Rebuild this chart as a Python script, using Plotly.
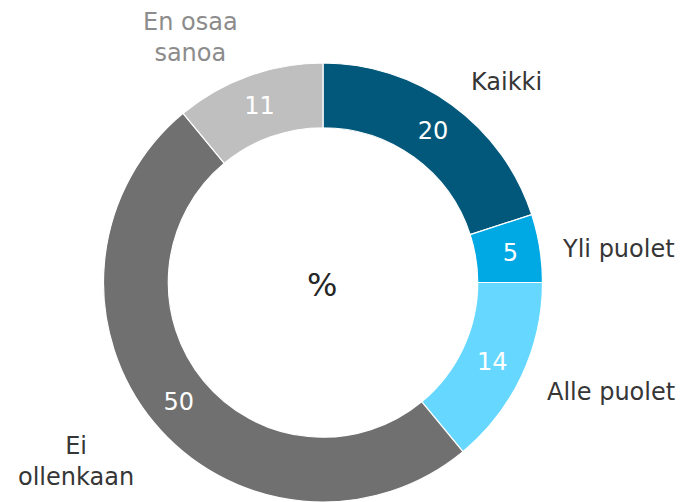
import plotly.graph_objects as go

# ── Data ───────────────────────────────────────────────
categories = ["Kaikki", "Yli puolet", "Alle puolet", "Ei ollenkaan", "En osaa sanoa"]
values = [20, 5, 14, 50, 11]
label_text = ["Kaikki", "Yli puolet", "Alle puolet", "Ei<br>ollenkaan", "En osaa<br>sanoa"]

slice_colors = ["#02587A", "#00A9E4", "#66D8FF", "#707070", "#BFBFBF"]
label_colors = ["#363636", "#363636", "#363636", "#363636", "#8C8C8C"]
# outside label anchors (paper coords)
label_pos = [(0.739, 0.837), (0.902, 0.504), (0.891, 0.219), (0.111, 0.081), (0.277, 0.926)]

W, H = 686, 502
FONT = "DejaVu Sans"

fig = go.Figure()

fig.add_trace(go.Pie(
    labels=categories,
    values=values,
    sort=False,
    direction="clockwise",
    rotation=0,
    hole=0.705,
    marker=dict(colors=slice_colors, line=dict(color="white", width=1.2)),
    textinfo="value",
    textposition="inside",
    insidetextorientation="horizontal",
    textfont=dict(family=FONT, size=24, color="white"),
    domain=dict(x=[103 / W, 543 / W], y=[0, 439 / H]),
    showlegend=False,
    hoverinfo="label+value",
))

for txt, col, (ax, ay) in zip(label_text, label_colors, label_pos):
    fig.add_annotation(
        x=ax, y=ay, xref="paper", yref="paper",
        xanchor="center", yanchor="middle",
        text=txt, showarrow=False,
        font=dict(family=FONT, size=24, color=col),
        align="center",
    )

# centre symbol
fig.add_annotation(
    x=322 / W, y=(H - 285) / H, xref="paper", yref="paper",
    xanchor="center", yanchor="middle",
    text="%", showarrow=False,
    font=dict(family=FONT, size=32, color="#262626"),
)

fig.update_layout(
    width=W, height=H,
    margin=dict(l=0, r=0, t=0, b=0),
    paper_bgcolor="white",
    plot_bgcolor="white",
    uniformtext=dict(minsize=24, mode="show"),
)

# drop the browser's default body margin so the figure sits at (0, 0)
fig.write_html("out.html", config={"displayModeBar": False},
               post_script="document.body.style.margin = '0';")
